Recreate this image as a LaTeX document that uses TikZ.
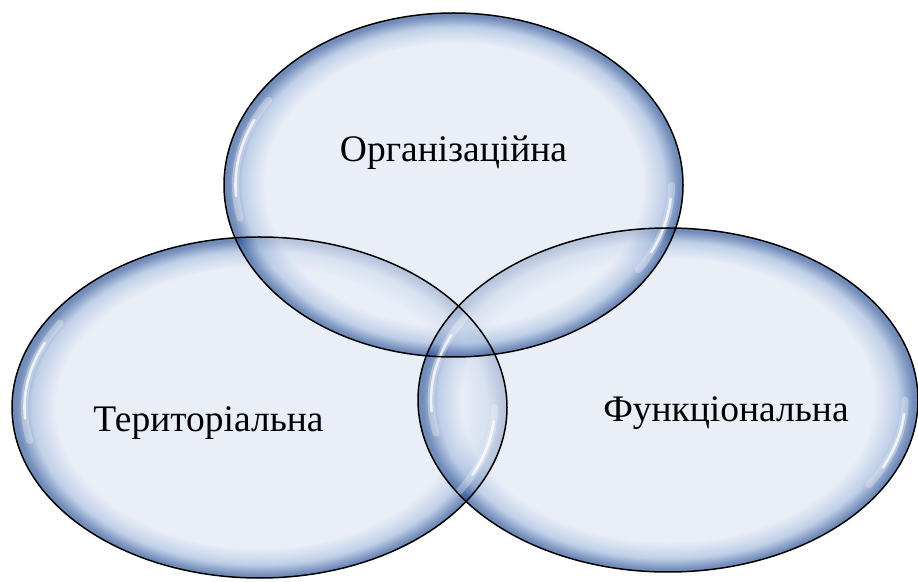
\documentclass[tikz,border=0pt]{standalone}
\usepackage{fontspec}
\setmainfont{Liberation Serif}
\usetikzlibrary{positioning}
\definecolor{bubin}{RGB}{233,238,247}
\definecolor{bubmid}{RGB}{165,188,222}
\definecolor{bubrim}{RGB}{35,75,145}
\pgfdeclareradialshading{bubble}{\pgfpoint{0bp}{0bp}}{color(0bp)=(bubin); color(20.6bp)=(bubin); color(23bp)=(bubmid); color(24.6bp)=(bubrim); color(25bp)=(bubrim); color(50bp)=(bubrim)}

\begin{document}
\begin{tikzpicture}[x=1pt,y=1pt,line cap=round,line join=round,
  rim/.style={draw=black,line width=1.5pt},
  shine/.style={draw=white,line width=2.6pt,draw opacity=0.75},
  haze/.style={draw=white,line width=7pt,draw opacity=0.3},
  lbl/.style={font=\fontsize{37.5}{40}\selectfont,inner sep=0pt,anchor=base}]
\useasboundingbox (0,0) rectangle (918,581);
% centres of the three sets
\coordinate (L) at (259.5,173.5);
\coordinate (R) at (668,181);
\coordinate (T) at (453.5,396);
% light body
\foreach \c/\a/\b in {L/247.5/170.5,R/250/172,T/229.5/172}
\fill[bubin] (\c) ellipse [x radius=\a,y radius=\b];
% blue glow at the rims
\foreach \c/\a/\b in {L/247.5/170.5,R/250/172,T/229.5/172}
\shade[shading=bubble,fill opacity=0.6] (\c) ellipse [x radius=\a,y radius=\b];
% white reflections
\foreach \c/\a/\b in {L/235/159,R/237/160,T/218/160}{
\draw[haze] (\c) ++(148:{\a} and {\b}) arc[start angle=148,end angle=192,x radius=\a,y radius=\b];
\draw[shine] (\c) ++(156:{\a} and {\b}) arc[start angle=156,end angle=184,x radius=\a,y radius=\b];
\draw[haze] (\c) ++(328:{\a} and {\b}) arc[start angle=328,end angle=360,x radius=\a,y radius=\b];
\draw[shine] (\c) ++(335:{\a} and {\b}) arc[start angle=335,end angle=355,x radius=\a,y radius=\b];
}
% outlines
\foreach \c/\a/\b in {L/247.5/170.5,R/250/172,T/229.5/172}
\draw[rim] (\c) ellipse [x radius=\a,y radius=\b];
% labels
\node[lbl] (org) at (453.5,419) {Організаційна};
\node[lbl] (ter) at (208.5,149) {Територіальна};
\node[lbl] (fun) at (726,159) {Функціональна};
\end{tikzpicture}
\end{document}
